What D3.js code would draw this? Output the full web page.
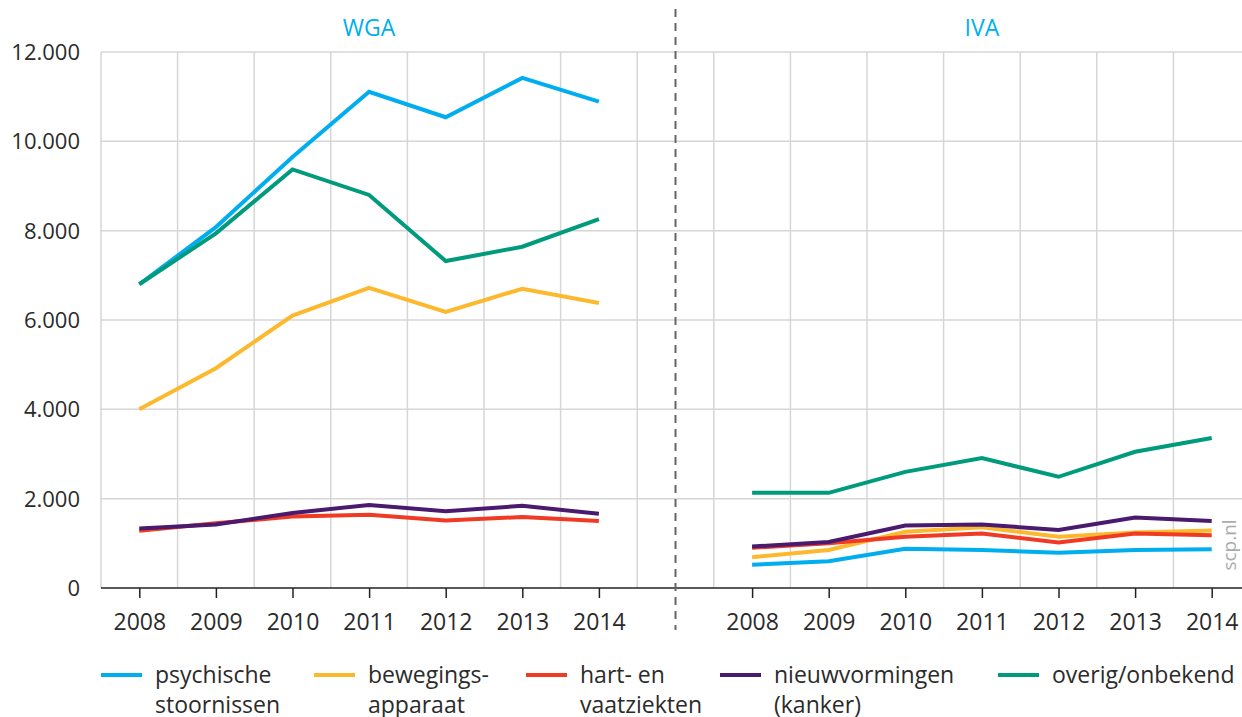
<!DOCTYPE html>
<meta charset="utf-8">
<title>WGA en IVA naar diagnose</title>
<style>
body {
  margin: 0;
  background: #fff;
}
text {
  font-family: "Open Sans", "Noto Sans", sans-serif;
}
.grid line {
  stroke: #d6d6d6;
  stroke-width: 1.5px;
}
.serie {
  fill: none;
  stroke-width: 4px;
  stroke-linejoin: miter;
}
</style>
<body>
<script src="https://d3js.org/d3.v7.min.js"></script>
<script>
var years = [2008, 2009, 2010, 2011, 2012, 2013, 2014];
var panels = ["WGA", "IVA"];
var yTicks = [0, 2000, 4000, 6000, 8000, 10000, 12000];

var categories = ["psychische stoornissen", "bewegingsapparaat", "hart- en vaatziekten", "nieuwvormingen (kanker)", "overig/onbekend"];
var legendLines = [["psychische", "stoornissen"], ["bewegings-", "apparaat"], ["hart- en", "vaatziekten"], ["nieuwvormingen", "(kanker)"], ["overig/onbekend"]];
var colors = ["#00aeef", "#fdb92e", "#ef3a24", "#4a1a6e", "#009b7d"];

var wgaPsychisch = [6800, 8080, 9650, 11110, 10540, 11420, 10890];
var wgaBeweging  = [4000, 4920, 6100, 6720, 6180, 6700, 6380];
var wgaHart      = [1280, 1450, 1600, 1640, 1510, 1590, 1500];
var wgaNieuw     = [1330, 1420, 1680, 1860, 1720, 1840, 1660];
var wgaOverig    = [6800, 7940, 9370, 8800, 7320, 7640, 8260];

var ivaPsychisch = [520, 600, 880, 850, 790, 850, 865];
var ivaBeweging  = [690, 850, 1260, 1360, 1150, 1240, 1290];
var ivaHart      = [900, 1000, 1150, 1220, 1020, 1220, 1180];
var ivaNieuw     = [930, 1030, 1400, 1420, 1300, 1580, 1500];
var ivaOverig    = [2130, 2130, 2600, 2910, 2490, 3050, 3360];

var series = [
  {panel: 0, cat: 0, values: wgaPsychisch},
  {panel: 0, cat: 1, values: wgaBeweging},
  {panel: 0, cat: 2, values: wgaHart},
  {panel: 0, cat: 4, values: wgaOverig},
  {panel: 0, cat: 3, values: wgaNieuw},
  {panel: 1, cat: 0, values: ivaPsychisch},
  {panel: 1, cat: 1, values: ivaBeweging},
  {panel: 1, cat: 2, values: ivaHart},
  {panel: 1, cat: 3, values: ivaNieuw},
  {panel: 1, cat: 4, values: ivaOverig}
];

var w = 1242,
    h = 717,
    plotLeft = 101,
    plotTop = 52,
    plotBottom = 588;

var svg = d3.select("body").append("svg")
    .attr("width", w)
    .attr("height", h);

// one slot per year, one empty slot between the panels
function slot(panel, i) { return panel * 8 + i; }

var x = d3.scaleLinear()
    .domain([-0.5, 14.5])
    .range([plotLeft, 1250]);
var y = d3.scaleLinear()
    .domain([0, 12000])
    .range([plotBottom, plotTop]);

var fmt = d3.formatLocale({decimal: ",", thousands: ".", grouping: [3], currency: ["€", ""]}).format(",");

// grid
var grid = svg.append("g").attr("class", "grid");
grid.selectAll(".h")
    .data(yTicks.slice(1))
  .enter().append("line")
    .attr("x1", plotLeft)
    .attr("x2", w)
    .attr("y1", y)
    .attr("y2", y);
grid.selectAll(".v")
    .data(d3.range(15))
  .enter().append("line")
    .attr("x1", function(d) { return x(d - 0.5); })
    .attr("x2", function(d) { return x(d - 0.5); })
    .attr("y1", y(12000))
    .attr("y2", y(0));

// y labels
svg.selectAll(".ylab")
    .data(yTicks)
  .enter().append("text")
    .attr("x", 80)
    .attr("y", function(d) { return y(d) + 8; })
    .attr("text-anchor", "end")
    .style("font-size", "22px")
    .style("fill", "#2b2b2b")
    .text(function(d) { return fmt(d); });

// x axes
panels.forEach(function(p, pi) {
  var ax = d3.axisBottom(x)
      .tickValues(years.map(function(d, i) { return slot(pi, i); }))
      .tickFormat(function(d) { return years[d - pi * 8]; })
      .tickSize(10)
      .tickPadding(16);
  var g = svg.append("g")
      .attr("transform", "translate(0," + plotBottom + ")")
      .call(ax);
  g.select(".domain").remove();
  g.selectAll(".tick line").attr("stroke", "#222").attr("stroke-width", 1.5);
  g.selectAll(".tick text")
      .style("font-family", "'Open Sans', 'Noto Sans', sans-serif")
      .style("font-size", "23px")
      .style("fill", "#2b2b2b");

  svg.append("text")
      .attr("x", (x(slot(pi, 0)) + x(slot(pi, 6))) / 2)
      .attr("y", 36)
      .attr("text-anchor", "middle")
      .style("font-size", "23px")
      .style("fill", "#00aeef")
      .text(p);
});

svg.append("line")
    .attr("x1", plotLeft)
    .attr("x2", w)
    .attr("y1", y(0))
    .attr("y2", y(0))
    .attr("stroke", "#222")
    .attr("stroke-width", 1.5);

// divider
svg.append("line")
    .attr("x1", x(7))
    .attr("x2", x(7))
    .attr("y1", 9)
    .attr("y2", 630)
    .attr("stroke", "#666")
    .attr("stroke-width", 2)
    .attr("stroke-dasharray", "8,6");

// lines
var line = d3.line()
    .x(function(d) { return x(d.s); })
    .y(function(d) { return y(d.v); });

svg.selectAll(".serie")
    .data(series)
  .enter().append("path")
    .attr("class", "serie")
    .attr("stroke", function(d) { return colors[d.cat]; })
    .attr("d", function(d) {
      return line(d.values.map(function(v, i) { return {s: slot(d.panel, i), v: v}; }));
    });

// source
svg.append("text")
    .attr("transform", "translate(1236,545)rotate(-90)")
    .attr("text-anchor", "middle")
    .style("font-size", "19px")
    .style("fill", "#aaa")
    .text("scp.nl");

// legend
var legendX = [101, 314, 526, 720, 998];
var lg = svg.selectAll(".lg")
    .data(categories)
  .enter().append("g")
    .attr("transform", function(d, i) { return "translate(" + legendX[i] + ",675)"; });
lg.append("line")
    .attr("x1", 0)
    .attr("x2", 41)
    .attr("stroke", function(d, i) { return colors[i]; })
    .attr("stroke-width", 4);
lg.append("text")
    .attr("y", 8)
    .style("font-size", "23px")
    .style("fill", "#2b2b2b")
    .selectAll("tspan")
    .data(function(d, i) { return legendLines[i]; })
  .enter().append("tspan")
    .attr("x", 54)
    .attr("dy", function(d, i) { return i ? 30 : 0; })
    .text(function(d) { return d; });
</script>
